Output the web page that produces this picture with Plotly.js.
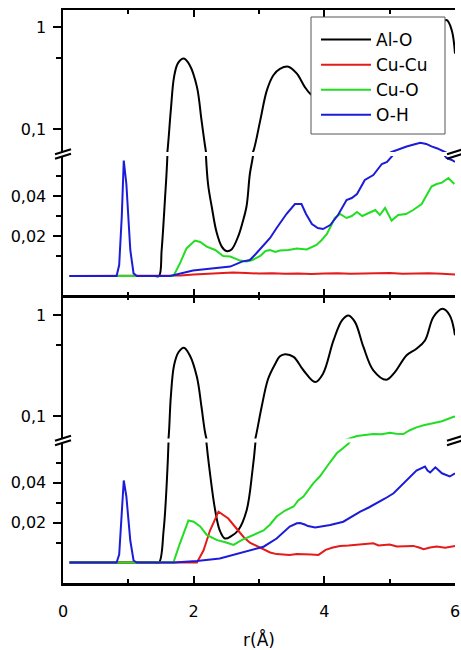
<!DOCTYPE html>
<html>
<head>
<meta charset="utf-8">
<script src="https://cdn.plot.ly/plotly-3.0.1.min.js"></script>
<style>html,body{margin:0;padding:0;background:#fff;}#chart{width:461px;height:650px;}</style>
</head>
<body>
<div id="chart"></div>
<script>
// ---------- DATA ----------
const seriesNames = ["Al-O", "Cu-Cu", "Cu-O", "O-H"];
const seriesColors = ["#000000", "#e41b1b", "#22dd22", "#1c1cd8"];
const xTickVals = [0, 2, 4, 6];
const xTickText = ["0", "2", "4", "6"];
const xTitle = "r(Å)";

// Top panel
const alo1_r = [0.1, 1.40, 1.47, 1.51, 1.56, 1.60, 1.65, 1.70, 1.76, 1.85, 1.94, 2.05, 2.12, 2.18, 2.22, 2.28, 2.35, 2.43, 2.50, 2.58, 2.68, 2.75, 2.81, 2.86, 2.92, 3.02, 3.12, 3.22, 3.32, 3.45, 3.58, 3.70, 3.78, 3.90, 4.05, 4.20, 4.35, 4.50, 4.70, 4.90, 5.10, 5.30, 5.50, 5.70, 5.87, 5.95, 6.0];
const alo1_v = [0, 0, 0, 0.013, 0.038, 0.062, 0.153, 0.326, 0.444, 0.493, 0.424, 0.26, 0.123, 0.065, 0.046, 0.034, 0.022, 0.0147, 0.0125, 0.0133, 0.0197, 0.027, 0.035, 0.051, 0.063, 0.123, 0.24, 0.338, 0.39, 0.41, 0.35, 0.26, 0.224, 0.2, 0.3, 0.55, 0.75, 0.55, 0.3, 0.25, 0.35, 0.55, 0.7, 0.95, 1.17, 0.93, 0.55];

const cucu1_r = [0.1, 1.6, 1.8, 2.0, 2.2, 2.4, 2.6, 2.8, 3.0, 3.2, 3.4, 3.6, 3.8, 4.0, 4.2, 4.4, 4.6, 4.8, 5.0, 5.2, 5.4, 5.6, 5.8, 6.0];
const cucu1_v = [0, 0, 0.0003, 0.0008, 0.0012, 0.0017, 0.0018, 0.0015, 0.0012, 0.0014, 0.0011, 0.0013, 0.0010, 0.0012, 0.0014, 0.0011, 0.0013, 0.0012, 0.0015, 0.0011, 0.0013, 0.0014, 0.0011, 0.0008];

const cuo1_r = [0.1, 1.69, 1.79, 1.89, 2.02, 2.10, 2.20, 2.33, 2.45, 2.56, 2.71, 2.81, 2.90, 3.02, 3.10, 3.17, 3.25, 3.32, 3.45, 3.58, 3.73, 3.88, 3.96, 4.04, 4.10, 4.16, 4.24, 4.34, 4.42, 4.50, 4.58, 4.65, 4.78, 4.85, 4.93, 5.03, 5.13, 5.25, 5.36, 5.49, 5.56, 5.64, 5.72, 5.80, 5.90, 5.99];
const cuo1_v = [0, 0, 0.0063, 0.0138, 0.0177, 0.017, 0.0147, 0.013, 0.010, 0.0097, 0.0077, 0.0072, 0.008, 0.010, 0.0125, 0.013, 0.012, 0.0127, 0.013, 0.0138, 0.0133, 0.0155, 0.018, 0.021, 0.025, 0.029, 0.031, 0.029, 0.030, 0.032, 0.030, 0.031, 0.033, 0.0305, 0.034, 0.0277, 0.0305, 0.031, 0.033, 0.036, 0.040, 0.0447, 0.046, 0.0467, 0.049, 0.046];

const oh1_r = [0.1, 0.82, 0.86, 0.90, 0.93, 0.97, 1.03, 1.08, 1.13, 1.64, 1.99, 2.30, 2.56, 2.74, 2.86, 2.95, 3.07, 3.17, 3.27, 3.42, 3.55, 3.65, 3.72, 3.81, 3.90, 3.98, 4.09, 4.21, 4.34, 4.42, 4.50, 4.62, 4.75, 4.88, 4.96, 5.03, 5.07, 5.17, 5.26, 5.37, 5.47, 5.56, 5.64, 5.73, 5.81, 5.87, 5.95, 6.0];
const oh1_v = [0, 0, 0.0055, 0.030, 0.0577, 0.046, 0.013, 0.0013, 0, 0, 0.0027, 0.0038, 0.0047, 0.0072, 0.008, 0.011, 0.0155, 0.019, 0.024, 0.031, 0.036, 0.036, 0.031, 0.026, 0.024, 0.0235, 0.0255, 0.0305, 0.038, 0.039, 0.041, 0.048, 0.0505, 0.056, 0.057, 0.060, 0.0613, 0.065, 0.068, 0.071, 0.074, 0.072, 0.068, 0.065, 0.0613, 0.059, 0.058, 0.057];

// Bottom panel
const alo2_r = [0.1, 1.40, 1.47, 1.54, 1.59, 1.62, 1.65, 1.70, 1.77, 1.85, 1.94, 2.05, 2.12, 2.18, 2.25, 2.33, 2.40, 2.48, 2.58, 2.68, 2.81, 2.90, 2.95, 3.04, 3.14, 3.25, 3.32, 3.40, 3.53, 3.68, 3.86, 3.98, 4.14, 4.27, 4.37, 4.47, 4.60, 4.75, 4.95, 5.08, 5.26, 5.41, 5.54, 5.67, 5.81, 5.92, 6.0];
const alo2_v = [0, 0, 0, 0.016, 0.041, 0.066, 0.154, 0.318, 0.43, 0.475, 0.40, 0.243, 0.123, 0.066, 0.0446, 0.026, 0.016, 0.012, 0.0133, 0.016, 0.026, 0.046, 0.062, 0.123, 0.234, 0.33, 0.39, 0.41, 0.385, 0.284, 0.217, 0.263, 0.56, 0.886, 0.99, 0.85, 0.48, 0.284, 0.229, 0.272, 0.40, 0.464, 0.56, 0.955, 1.15, 0.99, 0.63];

const cucu2_r = [0.1, 2.05, 2.15, 2.25, 2.38, 2.45, 2.53, 2.63, 2.76, 2.86, 2.95, 3.07, 3.17, 3.27, 3.37, 3.47, 3.58, 3.68, 3.80, 3.91, 4.02, 4.13, 4.24, 4.37, 4.50, 4.62, 4.75, 4.83, 4.90, 5.00, 5.11, 5.23, 5.36, 5.45, 5.52, 5.62, 5.72, 5.85, 5.97, 6.0];
const cucu2_v = [0, 0, 0.006, 0.016, 0.0254, 0.0238, 0.022, 0.018, 0.0129, 0.0099, 0.0085, 0.0063, 0.005, 0.0042, 0.0040, 0.0038, 0.0042, 0.0042, 0.0040, 0.0038, 0.0063, 0.0075, 0.0083, 0.0085, 0.0088, 0.0092, 0.0096, 0.0085, 0.0088, 0.0090, 0.008, 0.0082, 0.0083, 0.0075, 0.0066, 0.0075, 0.008, 0.0074, 0.0083, 0.0083];

const cuo2_r = [0.1, 1.69, 1.79, 1.92, 2.00, 2.10, 2.20, 2.35, 2.51, 2.61, 2.74, 2.86, 2.95, 3.07, 3.17, 3.27, 3.40, 3.53, 3.60, 3.68, 3.83, 3.93, 4.04, 4.19, 4.28, 4.37, 4.45, 4.50, 4.62, 4.75, 4.88, 5.00, 5.10, 5.21, 5.30, 5.41, 5.52, 5.67, 5.80, 5.97, 6.0];
const cuo2_v = [0, 0, 0.0096, 0.021, 0.0204, 0.018, 0.0138, 0.0113, 0.0099, 0.0088, 0.0113, 0.0129, 0.014, 0.016, 0.019, 0.023, 0.026, 0.028, 0.031, 0.033, 0.0396, 0.043, 0.048, 0.0546, 0.057, 0.0595, 0.0625, 0.0634, 0.065, 0.0664, 0.066, 0.0685, 0.067, 0.0664, 0.072, 0.0773, 0.081, 0.086, 0.089, 0.098, 0.099];

const oh2_r = [0.1, 0.82, 0.86, 0.90, 0.93, 0.97, 1.03, 1.08, 1.13, 1.70, 2.05, 2.40, 2.71, 2.86, 3.07, 3.27, 3.47, 3.58, 3.63, 3.70, 3.75, 3.86, 3.98, 4.09, 4.29, 4.42, 4.55, 4.68, 4.80, 4.93, 5.06, 5.16, 5.26, 5.41, 5.54, 5.58, 5.62, 5.70, 5.80, 5.92, 6.0];
const oh2_v = [0, 0, 0.004, 0.0246, 0.041, 0.033, 0.011, 0.001, 0, 0, 0.0008, 0.002, 0.0046, 0.0058, 0.0079, 0.012, 0.018, 0.0196, 0.0197, 0.019, 0.0182, 0.0175, 0.018, 0.0188, 0.0204, 0.023, 0.0254, 0.0275, 0.0296, 0.032, 0.0346, 0.038, 0.041, 0.046, 0.048, 0.046, 0.045, 0.0476, 0.0446, 0.043, 0.0446];

// ---------- LAYOUT HELPERS ----------
const L = 63, R = 455, T = 10, B = 583;
const pX = x => (x - L) / (R - L);
const pY = y => (B - y) / (B - T);
const FONT = "DejaVu Sans, Arial, sans-serif";
const BREAK = 0.06;

const topSet = [[alo1_r, alo1_v], [cucu1_r, cucu1_v], [cuo1_r, cuo1_v], [oh1_r, oh1_v]];
const botSet = [[alo2_r, alo2_v], [cucu2_r, cucu2_v], [cuo2_r, cuo2_v], [oh2_r, oh2_v]];

const traces = [];
function add(set, xa, ya, show) {
  set.forEach((s, i) => {
    traces.push({
      type: "scatter", mode: "lines", x: s[0], y: s[1], xaxis: xa, yaxis: ya,
      name: seriesNames[i], legendgroup: seriesNames[i], showlegend: show,
      line: {color: seriesColors[i], width: 2, shape: i === 0 ? "spline" : "linear", smoothing: 1.0},
      hoverinfo: "skip"
    });
  });
}
add(topSet, "x3", "y3", true);
add(topSet, "x4", "y4", false);
add(botSet, "x", "y", false);
add(botSet, "x2", "y2", false);

const tickFont = {family: FONT, size: 16, color: "black"};
function leftAxis(domain, type, range, tv, tt, minorVals, anchor) {
  return {domain, type, range, anchor, tickmode: "array", tickvals: tv, ticktext: tt,
    ticks: "outside", ticklen: 8, tickwidth: 2, tickcolor: "black",
    minor: {tickmode: "array", tickvals: minorVals, ticks: "outside", ticklen: 5, tickwidth: 2, tickcolor: "black", showgrid: false},
    showline: true, linewidth: 2.5, linecolor: "black", showgrid: false, zeroline: false,
    tickfont: tickFont, fixedrange: true, ticklabelstandoff: 3};
}
function rightAxis(over, type, range, tv, anchor) {
  return {overlaying: over, side: "right", anchor, type, range, tickmode: "array", tickvals: tv,
    showticklabels: false, ticks: "inside", ticklen: 7, tickwidth: 2, tickcolor: "black",
    showline: true, linewidth: 2.5, linecolor: "black", showgrid: false, zeroline: false, fixedrange: true};
}
function xAxis(anchor, side, lw, labels) {
  return {anchor, side, domain: [0, 1], range: [0, 6], tickmode: "array", tickvals: xTickVals, ticktext: xTickText,
    showticklabels: labels, ticks: "inside", ticklen: 7, tickwidth: 2, tickcolor: "black",
    minor: {tickmode: "array", tickvals: [1, 3, 5], ticks: "inside", ticklen: 4, tickwidth: 2, tickcolor: "black", showgrid: false},
    showline: true, linewidth: lw, linecolor: "black", showgrid: false, zeroline: false,
    tickfont: tickFont, fixedrange: true, ticklabelstandoff: 12};
}

const logLo = Math.log10(BREAK);
const linTicks = [0.02, 0.04], linText = ["0,02", "0,04"];
const logTicks = [0.1, 1], logText = ["0,1", "1"];

const layout = {
  width: 461, height: 650,
  margin: {l: L, r: 461 - R, t: T, b: 650 - B, pad: 0},
  paper_bgcolor: "white", plot_bgcolor: "white",
  font: {family: FONT, color: "black"},
  showlegend: true,
  legend: {x: pX(316), y: pY(22), xanchor: "left", yanchor: "top", bgcolor: "rgba(0,0,0,0)",
    borderwidth: 0, font: {family: FONT, size: 17, color: "black"}, itemwidth: 50, tracegroupgap: 0},
  xaxis: Object.assign(xAxis("y", "bottom", 2.5, true), {title: {text: xTitle, font: {family: FONT, size: 17, color: "black"}}}),
  xaxis2: xAxis("y2", "top", 1.5, false),
  xaxis3: xAxis("y3", "bottom", 1.5, false),
  xaxis4: xAxis("y4", "top", 2.5, false),
  yaxis: leftAxis([0, pY(442.5)], "linear", [-0.01025, BREAK], linTicks, linText, [0.01, 0.03, 0.05], "x"),
  yaxis2: leftAxis([pY(438.5), pY(296)], "log", [logLo, 0.188], logTicks, logText, [0.5], "x2"),
  yaxis3: leftAxis([pY(296), pY(156)], "linear", [-0.01, BREAK], linTicks, linText, [0.01, 0.03, 0.05], "x3"),
  yaxis4: leftAxis([pY(152), 1], "log", [logLo, 0.1667], logTicks, logText, [0.5], "x4"),
  yaxis5: rightAxis("y", "linear", [-0.01025, BREAK], [0, 0.01, 0.02, 0.03, 0.04, 0.05], "x"),
  yaxis6: rightAxis("y2", "log", [logLo, 0.188], [0.1, 0.5, 1], "x2"),
  yaxis7: rightAxis("y3", "linear", [-0.01, BREAK], [0, 0.01, 0.02, 0.03, 0.04, 0.05], "x3"),
  yaxis8: rightAxis("y4", "log", [logLo, 0.1667], [0.1, 0.5, 1], "x4"),
  shapes: []
};

// legend frame
layout.shapes.push({type: "rect", xref: "paper", yref: "paper", x0: pX(311), x1: pX(445), y0: pY(134), y1: pY(17),
  line: {color: "#555", width: 1}, fillcolor: "white", layer: "above"});

// axis-break marks
function breakMark(cx, cy) {
  [-2.3, 2.3].forEach(dy => {
    layout.shapes.push({type: "line", xref: "paper", yref: "paper",
      x0: pX(cx - 8), y0: pY(cy + dy + 2.5), x1: pX(cx + 8), y1: pY(cy + dy - 2.5),
      line: {color: "black", width: 2.2}, layer: "above"});
  });
}
breakMark(63, 154); breakMark(455, 154);
breakMark(63, 440.5); breakMark(455, 440.5);

Plotly.newPlot("chart", traces, layout, {displayModeBar: false, staticPlot: true});
</script>
</body>
</html>
